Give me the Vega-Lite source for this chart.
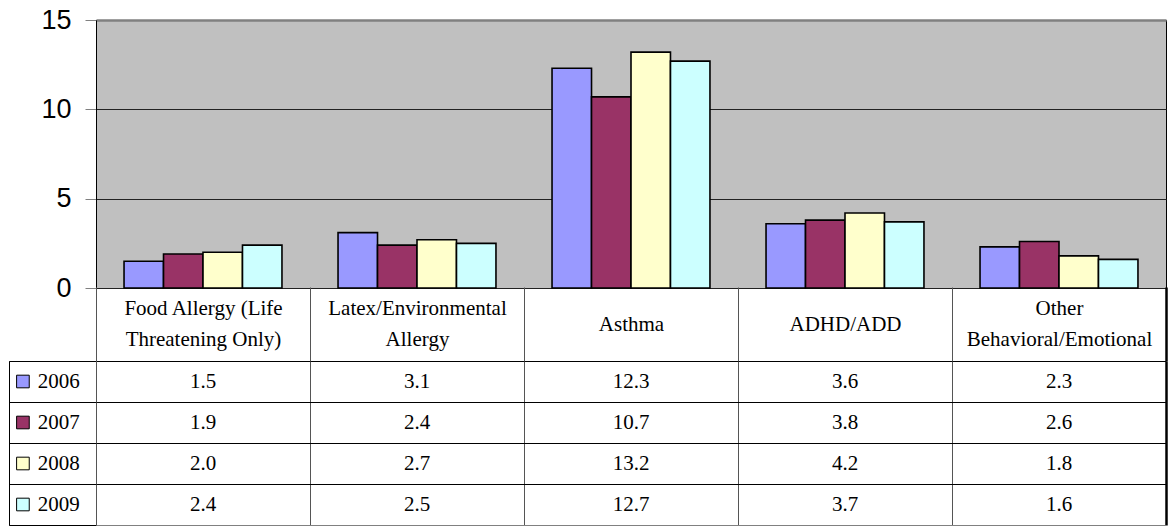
{
  "$schema": "https://vega.github.io/schema/vega-lite/v6.json",
  "padding": {"left": 8, "top": 5, "right": 5, "bottom": 0},
  "background": "white",
  "datasets": {
    "rates": [
      {"category": "Food Allergy (Life Threatening Only)", "year": "2006", "value": 1.5},
      {"category": "Food Allergy (Life Threatening Only)", "year": "2007", "value": 1.9},
      {"category": "Food Allergy (Life Threatening Only)", "year": "2008", "value": 2.0},
      {"category": "Food Allergy (Life Threatening Only)", "year": "2009", "value": 2.4},
      {"category": "Latex/Environmental Allergy", "year": "2006", "value": 3.1},
      {"category": "Latex/Environmental Allergy", "year": "2007", "value": 2.4},
      {"category": "Latex/Environmental Allergy", "year": "2008", "value": 2.7},
      {"category": "Latex/Environmental Allergy", "year": "2009", "value": 2.5},
      {"category": "Asthma", "year": "2006", "value": 12.3},
      {"category": "Asthma", "year": "2007", "value": 10.7},
      {"category": "Asthma", "year": "2008", "value": 13.2},
      {"category": "Asthma", "year": "2009", "value": 12.7},
      {"category": "ADHD/ADD", "year": "2006", "value": 3.6},
      {"category": "ADHD/ADD", "year": "2007", "value": 3.8},
      {"category": "ADHD/ADD", "year": "2008", "value": 4.2},
      {"category": "ADHD/ADD", "year": "2009", "value": 3.7},
      {"category": "Other Behavioral/Emotional", "year": "2006", "value": 2.3},
      {"category": "Other Behavioral/Emotional", "year": "2007", "value": 2.6},
      {"category": "Other Behavioral/Emotional", "year": "2008", "value": 1.8},
      {"category": "Other Behavioral/Emotional", "year": "2009", "value": 1.6}
    ]
  },
  "config": {"font": "Liberation Serif", "axis": {"title": null}},
  "spacing": -17,
  "vconcat": [
    {
      "spacing": 0,
      "bounds": "flush",
      "hconcat": [
        {
          "width": 87,
          "height": 268,
          "view": {"stroke": null, "fill": null},
          "data": {"values": []},
          "mark": {"type": "point", "opacity": 0},
          "encoding": {}
        },
        {
          "width": 1070,
          "height": 268,
          "view": {"fill": "#C0C0C0", "stroke": "black", "strokeWidth": 1},
          "data": {"name": "rates"},
          "mark": {"type": "bar", "stroke": "black", "strokeWidth": 1.6},
          "encoding": {
            "x": {
              "field": "category", "type": "nominal",
              "scale": {"domain": ["Food Allergy (Life Threatening Only)", "Latex/Environmental Allergy", "Asthma", "ADHD/ADD", "Other Behavioral/Emotional"], "paddingInner": 0.262, "paddingOuter": 0.131},
              "axis": null
            },
            "xOffset": {
              "field": "year", "type": "nominal",
              "scale": {"domain": ["2006", "2007", "2008", "2009"], "paddingInner": 0, "paddingOuter": 0}
            },
            "y": {
              "field": "value", "type": "quantitative",
              "scale": {"domain": [0, 15]},
              "axis": {
                "values": [0, 5, 10, 15],
                "grid": true,
                "gridColor": {"condition": {"test": "datum.value === 15", "value": "#808080"}, "value": "#222222"},
                "gridWidth": {"condition": {"test": "datum.value === 15", "value": 2.5}, "value": 1},
                "domainColor": "black",
                "tickColor": "#808080",
                "tickSize": 11,
                "labelPadding": 14,
                "labelFont": "Liberation Sans",
                "labelFontSize": 27,
                "labelColor": "black",
                "title": null
              }
            },
            "color": {
              "field": "year", "type": "nominal",
              "scale": {"domain": ["2006", "2007", "2008", "2009"], "range": ["#9999FF", "#993366", "#FFFFCC", "#CCFFFF"]},
              "legend": null
            }
          }
        }
      ]
    },
    {
      "spacing": 0,
      "bounds": "flush",
      "hconcat": [
        {
          "width": 87,
          "height": 164,
          "view": {"stroke": "black", "fill": "white"},
          "data": {"name": "rates"},
          "transform": [{"aggregate": [{"op": "count", "as": "n"}], "groupby": ["year"]}],
          "encoding": {
            "y": {
              "field": "year", "type": "nominal",
              "scale": {"domain": ["2006", "2007", "2008", "2009"], "paddingInner": 0, "paddingOuter": 0},
              "axis": {"labels": false, "ticks": false, "domain": false, "grid": true, "gridColor": "black", "tickBand": "extent", "minExtent": 0, "maxExtent": 0, "title": null}
            }
          },
          "layer": [
            {
              "mark": {"type": "point", "shape": "square", "filled": true, "size": 160, "stroke": "black", "strokeWidth": 1, "opacity": 1},
              "encoding": {
                "x": {"datum": 0.16, "type": "quantitative", "scale": {"domain": [0, 1]}, "axis": null},
                "color": {
                  "field": "year", "type": "nominal",
                  "scale": {"domain": ["2006", "2007", "2008", "2009"], "range": ["#9999FF", "#993366", "#FFFFCC", "#CCFFFF"]},
                  "legend": null
                }
              }
            },
            {
              "mark": {"type": "text", "align": "left", "baseline": "middle", "font": "Liberation Serif", "fontSize": 21, "color": "black"},
              "encoding": {
                "x": {"datum": 0.33, "type": "quantitative", "scale": {"domain": [0, 1]}, "axis": null},
                "text": {"field": "year", "type": "nominal"}
              }
            }
          ]
        },
        {
          "width": 1070,
          "height": 164,
          "view": {"stroke": null, "fill": "white"},
          "data": {"name": "rates"},
          "mark": {"type": "text", "font": "Liberation Serif", "fontSize": 21, "color": "black", "baseline": "middle"},
          "encoding": {
            "x": {
              "field": "category", "type": "nominal",
              "scale": {"domain": ["Food Allergy (Life Threatening Only)", "Latex/Environmental Allergy", "Asthma", "ADHD/ADD", "Other Behavioral/Emotional"], "paddingInner": 0, "paddingOuter": 0},
              "axis": {
                "orient": "top",
                "tickBand": "extent",
                "tickSize": 74,
                "tickColor": {"condition": {"test": "datum.value === 'Other Behavioral/Emotional'", "value": "black"}, "value": "#555555"},
                "tickWidth": {"condition": {"test": "datum.value === 'Other Behavioral/Emotional'", "value": 2.5}, "value": 1},
                "grid": true,
                "gridColor": {"condition": {"test": "datum.value === 'Other Behavioral/Emotional'", "value": "black"}, "value": "#555555"},
                "gridWidth": {"condition": {"test": "datum.value === 'Other Behavioral/Emotional'", "value": 2.5}, "value": 1},
                "domain": false,
                "labelAngle": 0,
                "labelBaseline": "middle",
                "labelPadding": {"condition": {"test": "datum.value === 'Asthma' || datum.value === 'ADHD/ADD'", "value": -37}, "value": -21.5},
                "labelFont": "Liberation Serif",
                "labelFontSize": 21,
                "labelColor": "black",
                "labelLineHeight": 31,
                "labelLimit": 0,
                "labelExpr": "datum.value == 'Food Allergy (Life Threatening Only)' ? ['Food Allergy (Life', 'Threatening Only)'] : datum.value == 'Latex/Environmental Allergy' ? ['Latex/Environmental', 'Allergy'] : datum.value == 'Other Behavioral/Emotional' ? ['Other', 'Behavioral/Emotional'] : datum.value",
                "title": null
              }
            },
            "y": {
              "field": "year", "type": "nominal",
              "scale": {"domain": ["2006", "2007", "2008", "2009"], "paddingInner": 0, "paddingOuter": 0},
              "axis": {
                "labels": false, "ticks": false, "domain": false, "grid": true,
                "gridColor": {"condition": {"test": "datum.value === '2009'", "value": "#808080"}, "value": "black"},
                "tickBand": "extent", "minExtent": 0, "maxExtent": 0, "title": null
              }
            },
            "text": {"field": "value", "type": "quantitative", "format": ".1f"}
          }
        }
      ]
    }
  ]
}
